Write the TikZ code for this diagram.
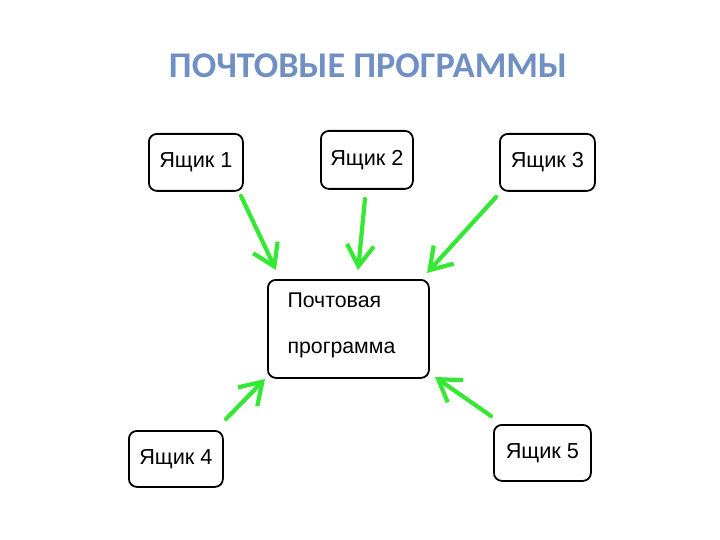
\documentclass[tikz,border=0pt]{standalone}
\usepackage{fontspec}
\setmainfont{Liberation Sans}
\newfontfamily\titlefont{Carlito}
\usetikzlibrary{arrows.meta}
\definecolor{titleblue}{RGB}{112,143,194}
\definecolor{arrgreen}{RGB}{52,232,52}
\begin{document}
\begin{tikzpicture}[x=1pt,y=-1pt,
  boxstyle/.style={draw=black,line width=1.8pt,rounded corners=8pt,inner sep=0pt,anchor=north west,font=\fontsize{21.7}{26}\selectfont},
  textstyle/.style={draw=none,anchor=west,align=left,font=\fontsize{21.3}{26}\selectfont},
  greenarrow/.style={draw=arrgreen,line width=4.2pt,line cap=round,-{Straight Barb[length=21pt,width=27pt,line width=4.2pt]}}]
\useasboundingbox (0,0) rectangle (720,540);
\fill[white] (0,0) rectangle (720,540);
\node[font=\titlefont\bfseries\fontsize{36.2}{40}\selectfont,text=titleblue] (title) at (368,66) {ПОЧТОВЫЕ ПРОГРАММЫ};
% boxes
\node[boxstyle,minimum width=94pt,minimum height=57pt] (b1) at (148,133) {Ящик 1};
\node[boxstyle,minimum width=92pt,minimum height=58pt] (b2) at (320,130) {Ящик 2};
\node[boxstyle,minimum width=95pt,minimum height=57pt] (b3) at (499,133) {Ящик 3};
\node[boxstyle,minimum width=161pt,minimum height=98pt] (c) at (267,279) {};
\node[boxstyle,minimum width=94pt,minimum height=56pt] (b4) at (128,430) {Ящик 4};
\node[boxstyle,minimum width=97pt,minimum height=56pt] (b5) at (493,424) {Ящик 5};
\node[textstyle] (ct) at (284,300) {Почтовая};
\node[textstyle] (ct2) at (284,350) {программа};
% arrow endpoints
\coordinate (t1) at (241,196); \coordinate (h1) at (276,270);
\coordinate (t2) at (365,199); \coordinate (h2) at (358,270);
\coordinate (t3) at (496,197); \coordinate (h3) at (427,273);
\coordinate (t4) at (226,419); \coordinate (h4) at (265,379);
\coordinate (t5) at (491,416); \coordinate (h5) at (435,377);
\draw[greenarrow] (t1) -- (h1);
\draw[greenarrow] (t2) -- (h2);
\draw[greenarrow] (t3) -- (h3);
\draw[greenarrow] (t4) -- (h4);
\draw[greenarrow] (t5) -- (h5);
\end{tikzpicture}
\end{document}
